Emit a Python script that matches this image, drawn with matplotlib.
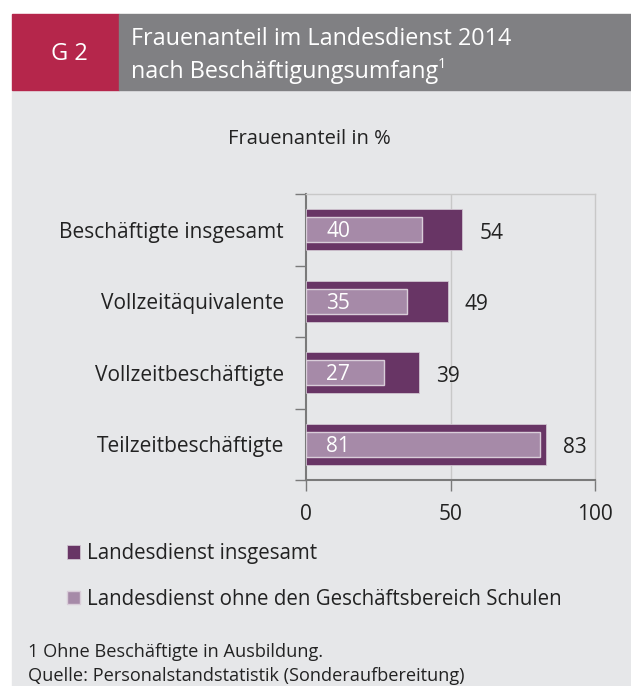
import matplotlib
matplotlib.use("Agg")
import matplotlib.pyplot as plt
from matplotlib.patches import Rectangle

plt.rcParams['font.family'] = ['Open Sans', 'DejaVu Sans']

categories = ["Beschäftigte insgesamt", "Vollzeitäquivalente",
              "Vollzeitbeschäftigte", "Teilzeitbeschäftigte"]
landesdienst_total = [54, 49, 39, 83]
ohne_schulen = [40, 35, 27, 81]
series_names = ["Landesdienst insgesamt",
                "Landesdienst ohne den Geschäftsbereich Schulen"]
x_ticks = [0, 50, 100]

W, H = 631, 686
DARK = '#683565'
LIGHT = '#a68aa8'
BG = '#e6e7e9'
TXT = '#222222'


def fx(x):
    return x / W


def fy(y):
    return 1 - y / H


fig = plt.figure(figsize=(W / 100, H / 100), dpi=100)
fig.patch.set_facecolor('white')

# background panel + header band
fig.add_artist(Rectangle((fx(12), 0), fx(W - 12), fy(90), color=BG, zorder=0))
fig.add_artist(Rectangle((fx(12), fy(90)), fx(107), 76 / H, color='#b5264b', zorder=0))
fig.add_artist(Rectangle((fx(119), fy(90)), fx(W - 119), 76 / H, color='#808083', zorder=0))

fig.text(fx(69), fy(54), "G 2", color='white', fontsize=17, ha='center', va='center')
fig.text(fx(131), fy(39), "Frauenanteil im Landesdienst 2014", color='white',
         fontsize=16.8, ha='left', va='center')
t2 = fig.text(fx(131), fy(72), "nach Beschäftigungsumfang", color='white',
              fontsize=16.8, ha='left', va='center')
renderer = fig.canvas.get_renderer()
bb = t2.get_window_extent(renderer)
fig.text(bb.x1 / W - fx(1), fy(64), "1", color='white', fontsize=10.5,
         ha='left', va='center')

fig.text(fx(309), fy(139), "Frauenanteil in %", color=TXT, fontsize=14.5,
         ha='center', va='center')

ax = fig.add_axes([fx(306), fy(480), fx(289), 286 / H])
ax.set_facecolor(BG)
ypos = list(range(len(categories)))
ax.barh(ypos, landesdienst_total, height=0.58, color=DARK,
        edgecolor='#cfc3cf', linewidth=0.6, zorder=3, label=series_names[0])
ax.barh(ypos, ohne_schulen, height=0.345, color=LIGHT,
        edgecolor='#d9cdd9', linewidth=1.0, zorder=4, label=series_names[1])

for y, v in zip(ypos, landesdienst_total):
    ax.text(v + 6, y + 0.05, str(v), color=TXT, fontsize=15, ha='left', va='center')
for y, v in zip(ypos, ohne_schulen):
    ax.text(7, y + 0.03, str(v), color='white', fontsize=15, ha='left', va='center', zorder=5)

ax.set_xlim(0, 100)
ax.set_ylim(3.5, -0.5)
ax.set_xticks(x_ticks)
ax.set_xticklabels([str(t) for t in x_ticks], fontsize=15, color=TXT)
ax.set_yticks([-0.5, 0.5, 1.5, 2.5, 3.5])
ax.set_yticklabels([])
ax.set_yticks(ypos, minor=True)
ax.set_yticklabels(categories, minor=True, fontsize=15, color=TXT)
ax.tick_params(axis='y', which='minor', length=0, pad=16)
ax.tick_params(axis='y', which='major', length=8, width=1, color='#7a7a7a')
ax.tick_params(axis='x', length=8, width=1, color='#7a7a7a', pad=9)

ax.axvline(50, color='#c8c8c8', linewidth=1, zorder=1)
for side in ['left', 'bottom']:
    ax.spines[side].set_color('#7a7a7a')
    ax.spines[side].set_linewidth(1.5)
for side in ['top', 'right']:
    ax.spines[side].set_color('#c8c8c8')
    ax.spines[side].set_linewidth(1)

handles, labels = ax.get_legend_handles_labels()
fig.legend(handles, labels, loc='upper left', bbox_to_anchor=(fx(67), fy(543)),
           frameon=False, fontsize=14.8, handlelength=0.65, handleheight=0.65,
           handletextpad=0.3, labelspacing=1.2, borderpad=0, borderaxespad=0,
           labelcolor=TXT)

fig.text(fx(28), fy(652), "1 Ohne Beschäftigte in Ausbildung.", color=TXT,
         fontsize=13.1, ha='left', va='center')
fig.text(fx(28), fy(676), "Quelle: Personalstandstatistik (Sonderaufbereitung)",
         color=TXT, fontsize=13.1, ha='left', va='center')

fig.savefig("out.png", dpi=100)
